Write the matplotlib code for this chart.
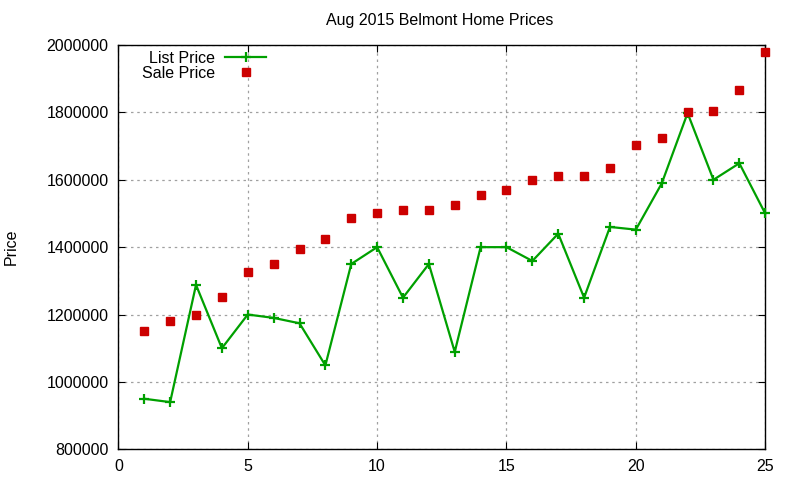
import matplotlib
matplotlib.use('Agg')
import matplotlib.pyplot as plt

plt.rcParams['font.family'] = ['Liberation Sans', 'DejaVu Sans']

days = list(range(1, 26))
list_price = [950000, 940000, 1288000, 1100000, 1200000, 1190000, 1174000, 1049000,
              1350000, 1400000, 1250000, 1350000, 1089000, 1400000, 1400000, 1359000,
              1440000, 1250000, 1460000, 1452000, 1589000, 1798000, 1600000, 1649000,
              1500000]
sale_price = [1150000, 1180000, 1200000, 1252000, 1326000, 1350000, 1395000, 1425000,
              1487000, 1502000, 1510000, 1510000, 1526000, 1556000, 1570000, 1598000,
              1612000, 1612000, 1636000, 1702000, 1725000, 1801000, 1804000, 1866000,
              1980000]
xticks = [0, 5, 10, 15, 20, 25]
yticks = [800000, 1000000, 1200000, 1400000, 1600000, 1800000, 2000000]

fig = plt.figure(figsize=(8, 4.8), dpi=100)
ax = fig.add_axes([0.148, 0.064, 0.8085, 0.8422])

ax.plot(days, list_price, color='#00a000', lw=1.6, marker='+', ms=7, mew=1.6,
        label='List Price', clip_on=False, zorder=3)
ax.plot(days, sale_price, ls='none', color='#cc0000', marker='s', ms=6,
        label='Sale Price', clip_on=False, zorder=3)

ax.set_xlim(0, 25)
ax.set_ylim(800000, 2000000)
ax.set_xticks(xticks)
ax.set_yticks(yticks)
ax.set_yticklabels([str(v) for v in yticks])
ax.tick_params(direction='in', top=True, right=True, labelsize=11.5, length=5, pad=7)
ax.grid(True, color='#a0a0a0', ls=(0, (2, 3)), lw=0.9)
for s in ax.spines.values():
    s.set_linewidth(1)

ax.set_ylabel('Price', fontsize=11.5, labelpad=20)
fig.text(0.55, 0.958, 'Aug 2015 Belmont Home Prices', ha='center', va='center', fontsize=11.5)

ax.legend(loc='upper left', bbox_to_anchor=(0.022, 1.01), frameon=False, markerfirst=False,
          fontsize=11.5, handlelength=2.6, labelspacing=0.0, borderaxespad=0.2,
          handletextpad=0.6)

fig.savefig('out.png')
